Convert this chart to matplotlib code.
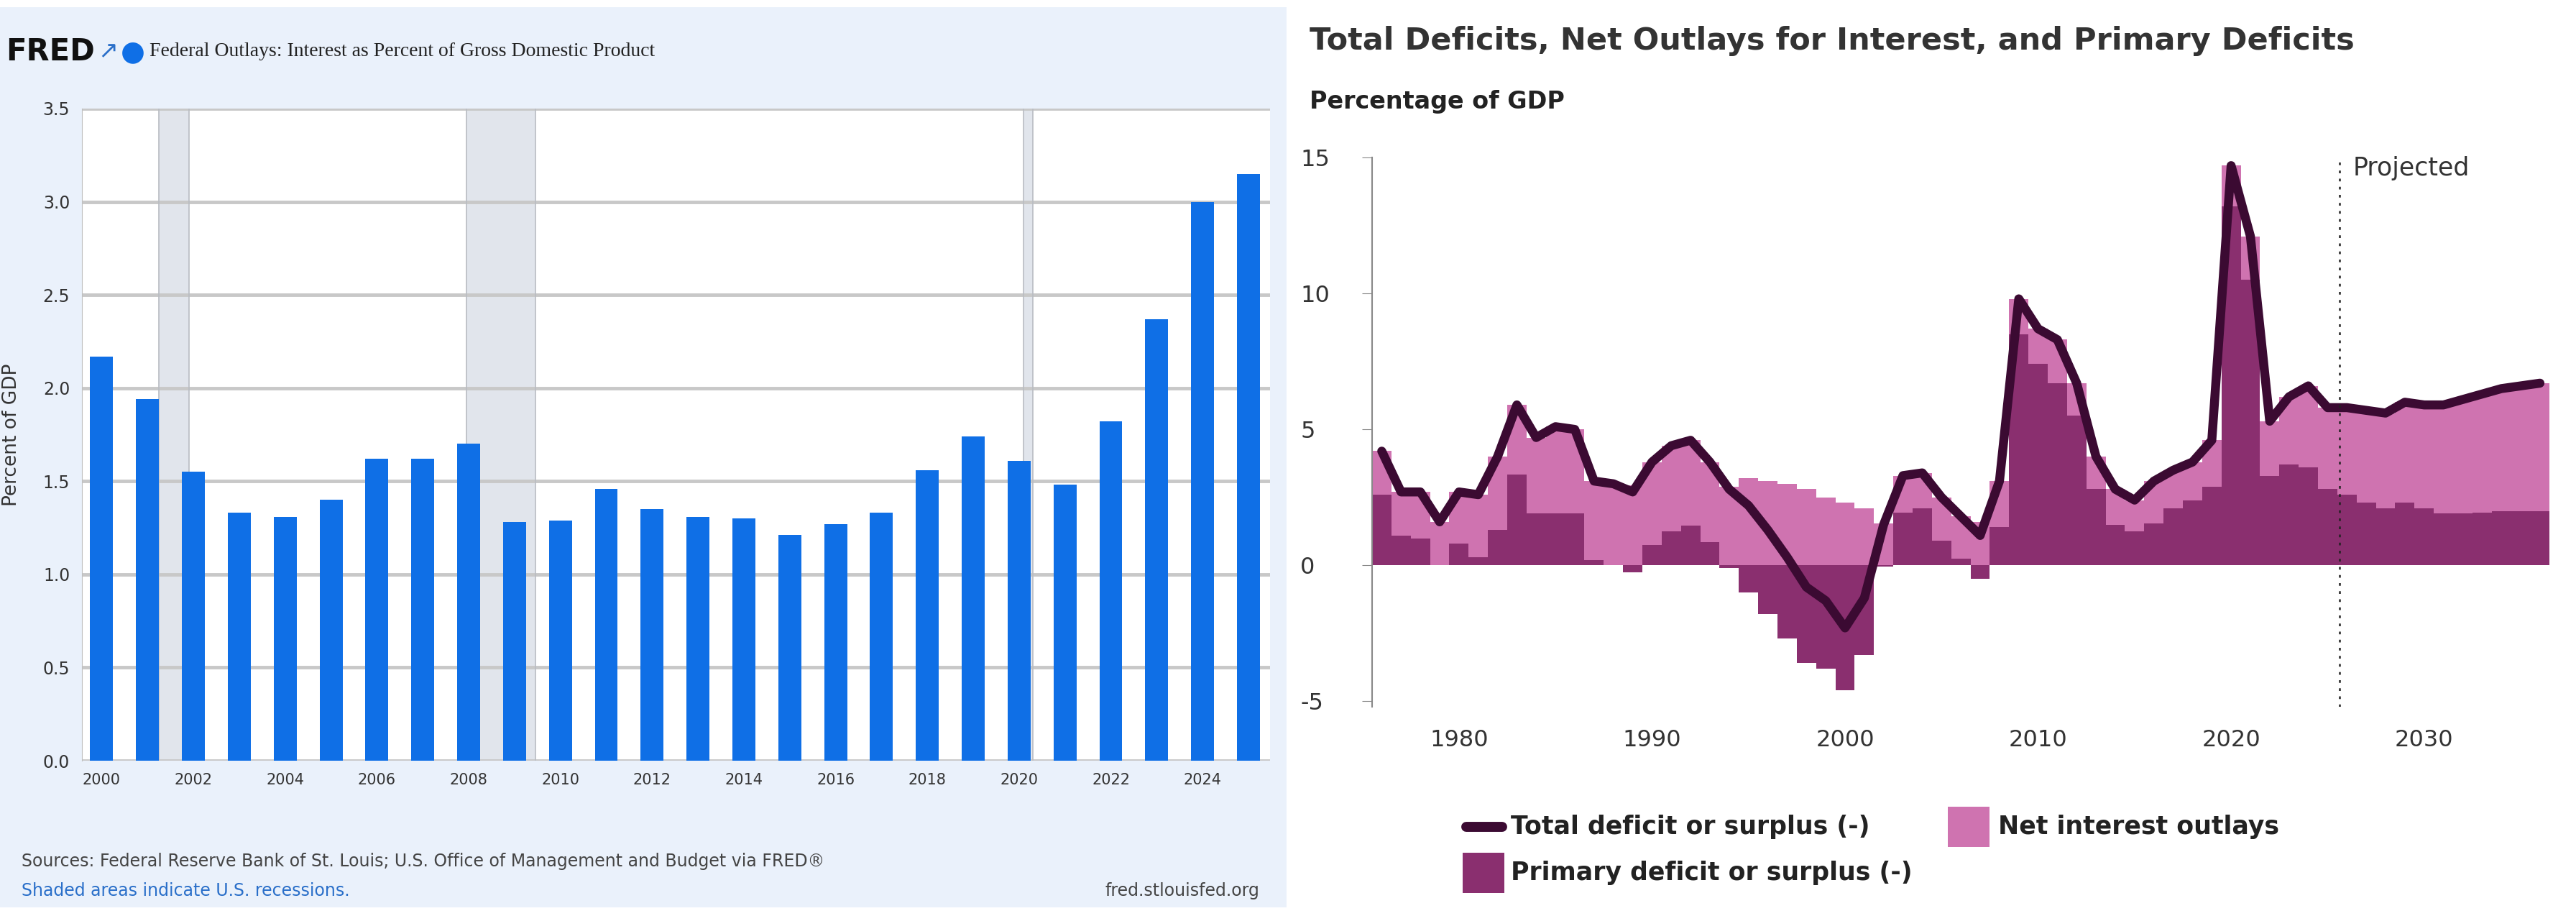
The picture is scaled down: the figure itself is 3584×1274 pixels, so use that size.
import matplotlib
matplotlib.use("Agg")
import matplotlib.pyplot as plt
from matplotlib.patches import Rectangle
from matplotlib.lines import Line2D
import numpy as np

# ---- Left chart data (FRED) ----
fred_years = list(range(2000, 2026))
fred_values = [2.17, 1.94, 1.55, 1.33, 1.31, 1.40, 1.62, 1.62, 1.70, 1.28, 1.29, 1.46, 1.35,
               1.31, 1.30, 1.21, 1.27, 1.33, 1.56, 1.74, 1.61, 1.48, 1.82, 2.37, 3.00, 3.15]
recessions = [(2001.25, 2001.9), (2007.95, 2009.45), (2020.1, 2020.3)]
fred_xticks = list(range(2000, 2026, 2))
fred_yticks = [0.0, 0.5, 1.0, 1.5, 2.0, 2.5, 3.0, 3.5]

# ---- Right chart data (CBO) ----
cbo_years = list(range(1976, 2037))
total_deficit = [4.2, 2.7, 2.7, 1.6, 2.7, 2.6, 4.0, 5.9, 4.7, 5.1, 5.0, 3.1, 3.0, 2.7, 3.8, 4.4, 4.6, 3.8,
                 2.8, 2.2, 1.3, 0.3, -0.8, -1.3, -2.3, -1.2, 1.5, 3.3, 3.4, 2.5, 1.8, 1.1, 3.1,
                 9.8, 8.7, 8.3, 6.7, 4.0, 2.8, 2.4, 3.1, 3.5, 3.8, 4.6, 14.7, 12.1, 5.3, 6.2, 6.6,
                 5.8, 5.8, 5.7, 5.6, 6.0, 5.9, 5.9, 6.1, 6.3, 6.5, 6.6, 6.7]
primary_deficit = [2.6, 1.1, 1.0, 0.0, 0.8, 0.3, 1.3, 3.35, 1.9, 1.9, 1.9, 0.2, 0.0, -0.25, 0.75, 1.25,
                   1.45, 0.85, -0.1, -1.0, -1.8, -2.7, -3.6, -3.8, -4.6, -3.3, -0.05, 1.95, 2.1, 0.9,
                   0.25, -0.5, 1.4, 8.5, 7.4, 6.7, 5.5, 2.8, 1.5, 1.25, 1.55, 2.1, 2.4, 2.9, 13.2,
                   10.5, 3.3, 3.7, 3.6, 2.8, 2.6, 2.3, 2.1, 2.3, 2.1, 1.9, 1.9, 1.95, 2.0, 2.0, 2.0]
net_interest = [t - p for t, p in zip(total_deficit, primary_deficit)]
cbo_xticks = [1980, 1990, 2000, 2010, 2020, 2030]
cbo_yticks = [-5, 0, 5, 10, 15]

W, H = 3584, 1274
fig = plt.figure(figsize=(W / 100, H / 100), dpi=100)
fig.patch.set_facecolor("white")

def fx(px): return px / W
def fy(py): return 1 - py / H

# ===== Left panel =====
bg = fig.add_axes([0, fy(1262), fx(1790), (1262 - 10) / H], zorder=-10)
bg.set_facecolor("#eaf1fb")
bg.set_xticks([]); bg.set_yticks([])
for s in bg.spines.values():
    s.set_visible(False)

axL = fig.add_axes([fx(114), fy(1058), fx(1767 - 114), (1058 - 151) / H], zorder=1)
axL.set_facecolor("white")
for a, b in recessions:
    axL.axvspan(a, b, color="#e1e5ec", zorder=0.5, lw=0)
    axL.axvline(a, color="#b9bcc2", lw=1.2, zorder=0.6)
    axL.axvline(b, color="#b9bcc2", lw=1.2, zorder=0.6)
axL.bar(fred_years, fred_values, width=0.5, color="#0f6fe6", zorder=2)
axL.set_xlim(1999.57, 2025.47)
axL.set_ylim(0, 3.5)
axL.set_yticks(fred_yticks)
axL.set_yticklabels([f"{v:.1f}" for v in fred_yticks])
axL.set_xticks(fred_xticks)
axL.set_xticklabels([str(v) for v in fred_xticks])
axL.grid(axis="y", color="#c8c8c8", lw=3.5, zorder=1)
axL.set_axisbelow(True)
for s in ["top", "right", "bottom"]:
    axL.spines[s].set_visible(False)
axL.spines["left"].set_color("#bfbfbf")
axL.tick_params(axis="y", length=0, labelsize=17, labelcolor="#333333", pad=12)
axL.tick_params(axis="x", length=0, labelsize=15, labelcolor="#333333", pad=12)
axL.set_ylabel("Percent of GDP", fontsize=19, color="#333333", labelpad=22)
fig.text(fx(8), fy(72), "FRED", fontsize=30, fontweight="bold", color="#111111", va="center")
fig.text(fx(136), fy(72), "\u2197", fontsize=24, color="#2a6fc9", va="center")
fig.text(fx(168), fy(72), "\u25CF", fontsize=28, color="#0f6fe6", va="center")
fig.text(fx(208), fy(72), "Federal Outlays: Interest as Percent of Gross Domestic Product",
         fontsize=20, family="Liberation Serif", color="#222222", va="center")
fig.text(fx(30), fy(1198), "Sources: Federal Reserve Bank of St. Louis; U.S. Office of Management and Budget via FRED\u00AE",
         fontsize=17, color="#444444", va="center")
fig.text(fx(30), fy(1239), "Shaded areas indicate U.S. recessions.", fontsize=17, color="#2a6fc9", va="center")
fig.text(fx(1752), fy(1239), "fred.stlouisfed.org", fontsize=17, color="#444444", va="center", ha="right")

# ===== Right panel =====
DARK, PINK, LINE = "#8a2f6f", "#cf73b0", "#3b0a32"
axR = fig.add_axes([fx(1909), fy(983), fx(3550 - 1909), (983 - 219) / H])
prim = np.array(primary_deficit)
intr = np.array(net_interest)
axR.bar(cbo_years, prim, width=1.0, color=DARK, lw=0, zorder=2)
axR.bar(cbo_years, intr, bottom=np.maximum(prim, 0), width=1.0, color=PINK, lw=0, zorder=1)
axR.plot(cbo_years, total_deficit, color=LINE, lw=9, solid_capstyle="round", solid_joinstyle="round", zorder=3)
axR.axvline(2025.6, color="#222222", lw=1.8, ls=(0, (1.5, 3)), zorder=4)
axR.text(2026.3, 14.6, "Projected", fontsize=25, color="#333333", va="center")
axR.set_xlim(1975.5, 2036.6)
axR.set_ylim(-5.2, 15)
axR.set_yticks(cbo_yticks)
axR.set_yticklabels([str(v) for v in cbo_yticks])
axR.set_xticks(cbo_xticks)
axR.set_xticklabels([str(v) for v in cbo_xticks])
for s in ["top", "right", "bottom"]:
    axR.spines[s].set_visible(False)
axR.spines["left"].set_color("#888888")
axR.spines["left"].set_linewidth(1.5)
axR.tick_params(axis="y", length=10, color="#888888", labelsize=23, labelcolor="#333333", pad=62)
axR.tick_params(axis="x", length=0, labelsize=23, labelcolor="#333333", pad=22)
for lab in axR.get_yticklabels():
    lab.set_horizontalalignment("left")

fig.text(fx(1822), fy(57), "Total Deficits, Net Outlays for Interest, and Primary Deficits",
         fontsize=31, fontweight="bold", color="#333333", va="center")
fig.text(fx(1822), fy(142), "Percentage of GDP", fontsize=24, fontweight="bold", color="#222222", va="center")

# legend
fig.add_artist(Line2D([fx(2040), fx(2090)], [fy(1150), fy(1150)], transform=fig.transFigure,
                      color=LINE, lw=10, solid_capstyle="round"))
fig.text(fx(2102), fy(1150), "Total deficit or surplus (-)", fontsize=25, fontweight="bold", color="#222222", va="center")
fig.patches.append(Rectangle((fx(2710), fy(1178)), fx(58), 56 / H, transform=fig.transFigure,
                             facecolor=PINK, edgecolor="none"))
fig.text(fx(2780), fy(1150), "Net interest outlays", fontsize=25, fontweight="bold", color="#222222", va="center")
fig.patches.append(Rectangle((fx(2035), fy(1242)), fx(58), 56 / H, transform=fig.transFigure,
                             facecolor=DARK, edgecolor="none"))
fig.text(fx(2102), fy(1214), "Primary deficit or surplus (-)", fontsize=25, fontweight="bold", color="#222222", va="center")

fig.savefig("out.png", dpi=100)
